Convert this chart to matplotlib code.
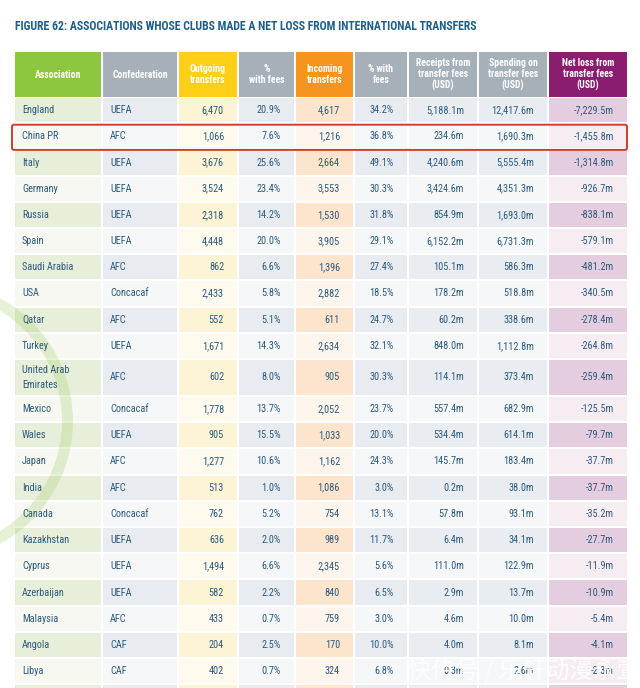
import matplotlib.pyplot as plt
from matplotlib.patches import Rectangle, FancyBboxPatch, Wedge

title = 'FIGURE 62: ASSOCIATIONS WHOSE CLUBS MADE A NET LOSS FROM INTERNATIONAL TRANSFERS'

headers = ['Association', 'Confederation', 'Outgoing\ntransfers', '%\nwith fees',
           'Incoming\ntransfers', '% with\nfees', 'Receipts from\ntransfer fees\n(USD)',
           'Spending on\ntransfer fees\n(USD)', 'Net loss from\ntransfer fees\n(USD)']

associations = ['England', 'China PR', 'Italy', 'Germany', 'Russia', 'Spain', 'Saudi Arabia',
                'USA', 'Qatar', 'Turkey', 'United Arab\nEmirates', 'Mexico', 'Wales', 'Japan',
                'India', 'Canada', 'Kazakhstan', 'Cyprus', 'Azerbaijan', 'Malaysia', 'Angola', 'Libya']
confederations = ['UEFA', 'AFC', 'UEFA', 'UEFA', 'UEFA', 'UEFA', 'AFC', 'Concacaf', 'AFC', 'UEFA',
                  'AFC', 'Concacaf', 'UEFA', 'AFC', 'AFC', 'Concacaf', 'UEFA', 'UEFA', 'UEFA',
                  'AFC', 'CAF', 'CAF']
outgoing = [6470, 1066, 3676, 3524, 2318, 4448, 862, 2433, 552, 1671, 602, 1778, 905, 1277,
            513, 762, 636, 1494, 582, 433, 204, 402]
out_pct = [20.9, 7.6, 25.6, 23.4, 14.2, 20.0, 6.6, 5.8, 5.1, 14.3, 8.0, 13.7, 15.5, 10.6,
           1.0, 5.2, 2.0, 6.6, 2.2, 0.7, 2.5, 0.7]
incoming = [4617, 1216, 2664, 3553, 1530, 3905, 1396, 2882, 611, 2634, 905, 2052, 1033, 1162,
            1086, 754, 989, 2345, 840, 759, 170, 324]
in_pct = [34.2, 36.8, 49.1, 30.3, 31.8, 29.1, 27.4, 18.5, 24.7, 32.1, 30.3, 23.7, 20.0, 24.3,
          3.0, 13.1, 11.7, 5.6, 6.5, 3.0, 10.0, 6.8]
receipts = [5188.1, 234.6, 4240.6, 3424.6, 854.9, 6152.2, 105.1, 178.2, 60.2, 848.0, 114.1,
            557.4, 534.4, 145.7, 0.2, 57.8, 6.4, 111.0, 2.9, 4.6, 4.0, 0.3]
spending = [12417.6, 1690.3, 5555.4, 4351.3, 1693.0, 6731.3, 586.3, 518.8, 338.6, 1112.8,
            373.4, 682.9, 614.1, 183.4, 38.0, 93.1, 34.1, 122.9, 13.7, 10.0, 8.1, 2.6]
net_loss = [-7229.5, -1455.8, -1314.8, -926.7, -838.1, -579.1, -481.2, -340.5, -278.4, -264.8,
            -259.4, -125.5, -79.7, -37.7, -37.7, -35.2, -27.7, -11.9, -10.9, -5.4, -4.1, -2.3]

# column edges in pixels
col_left = [15, 103, 179, 239, 296, 355, 409, 479, 549]
col_right = [101, 177, 237, 294, 353, 407, 477, 547, 627]
head_colors = ['#8dc63f', '#a6b0b9', '#fdd017', '#a6b0b9', '#f7941d', '#a6b0b9', '#a6b0b9',
               '#a6b0b9', '#8a1d6f']
tint_dark = ['#e7efdb', '#e8ebf0', '#fdf4d6', '#e8ecf0', '#fde4cd', '#e8ecf0', '#e9edf1',
             '#e9edf1', '#e5cde0']
tint_light = ['#f6f8f1', '#f6f7f9', '#fefaee', '#f6f7f9', '#fef5ed', '#f6f7f9', '#f6f7f9',
              '#f6f7f9', '#f6edf3']
txt_color = '#2b5b7e'
font = ['Roboto Condensed', 'Roboto', 'DejaVu Sans']


def fmt_int(v):
    return f'{v:,}'


def fmt_m(v):
    return f'{v:,.1f}m'


fig = plt.figure(figsize=(6.4, 6.88), dpi=100)
ax = fig.add_axes([0, 0, 1, 1])
ax.set_xlim(0, 640)
ax.set_ylim(688, 0)
ax.axis('off')

ax.text(15, 27, title, fontsize=8.5, fontweight='bold', color='#1f5f8c', va='center',
        family=font)

# header
head_top, head_bot = 52, 97
for j, h in enumerate(headers):
    ax.add_patch(Rectangle((col_left[j], head_top), col_right[j] - col_left[j],
                           head_bot - head_top, color=head_colors[j], lw=0))
    ax.text((col_left[j] + col_right[j]) / 2, (head_top + head_bot) / 2, h, color='white',
            fontsize=7, fontweight='bold', ha='center', va='center', linespacing=1.15,
            family=font)

# body rows
row_h = 26.2
y = head_bot
for i, name in enumerate(associations):
    h = 37 if '\n' in name else row_h
    cols = tint_dark if i % 2 == 0 else tint_light
    for j in range(9):
        ax.add_patch(Rectangle((col_left[j], y + 1), col_right[j] - col_left[j], h - 2,
                               color=cols[j], lw=0))
    cy = y + h / 2
    vals = [fmt_int(outgoing[i]), f'{out_pct[i]:.1f}%', fmt_int(incoming[i]),
            f'{in_pct[i]:.1f}%', fmt_m(receipts[i]), fmt_m(spending[i]), fmt_m(net_loss[i])]
    ax.text(22, cy, name, color=txt_color, fontsize=7.4, va='center', ha='left',
            linespacing=1.6, family=font)
    ax.text(110, cy, confederations[i], color=txt_color, fontsize=7.4, va='center',
            ha='left', family=font)
    for k, v in enumerate(vals):
        ax.text(col_right[k + 2] - 13, cy, v, color=txt_color, fontsize=7.4, va='center',
                ha='right', family=font)
    if i == 1:
        box_top = y
    y += h

# partially visible next row
for j in range(9):
    ax.add_patch(Rectangle((col_left[j], y + 1), col_right[j] - col_left[j], row_h,
                           color=tint_dark[j], lw=0))

# decorative green ring at the left
ax.add_patch(Wedge((-67, 421), 140, -90, 90, width=11, color='#9ccb5a', alpha=0.25, lw=0))

# highlight box around China PR
ax.add_patch(FancyBboxPatch((12, box_top + 1.5), 615, row_h - 1,
                            boxstyle='round,pad=0,rounding_size=2', fill=False,
                            ec='#d8392e', lw=1.4, zorder=5))

# watermark
ax.text(640, 671, '快传号 / 乐轩动漫永萱', fontsize=17, color='white', alpha=0.8,
        ha='right', va='center', family=['Noto Sans CJK SC', 'DejaVu Sans'], zorder=6)

fig.savefig('out.png', dpi=100)
